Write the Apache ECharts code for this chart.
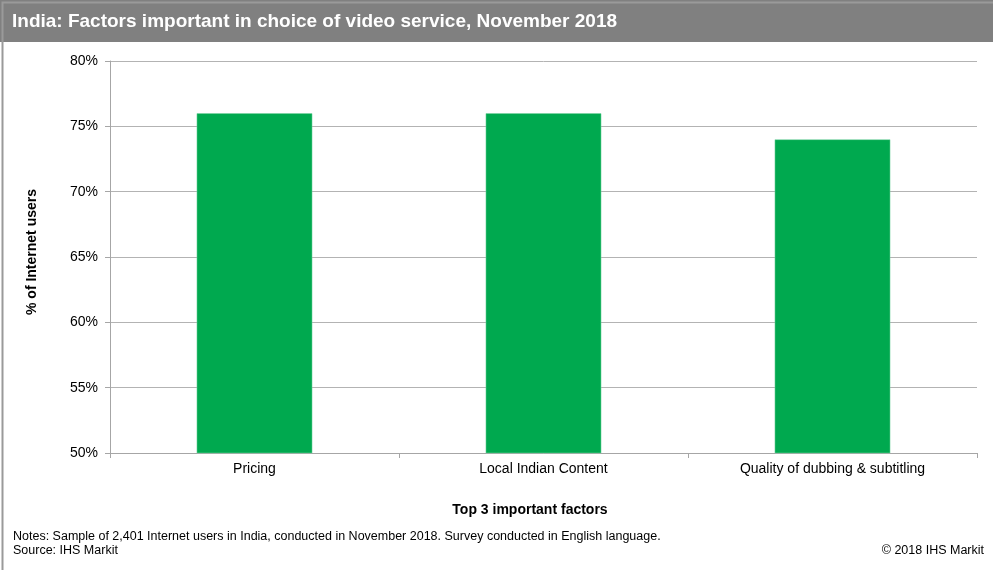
<!DOCTYPE html>
<html><head><meta charset="utf-8">
<script src="https://cdn.jsdelivr.net/npm/echarts@6/dist/echarts.min.js"></script>
<style>html,body{margin:0;padding:0;background:#fff}#c{width:993px;height:570px}</style>
</head><body><div id="c"></div>
<script>
const categories = ["Pricing", "Local Indian Content", "Quality of dubbing & subtitling"];
const values = [76, 76, 74];
const yTicks = [50, 55, 60, 65, 70, 75, 80];
const titleText = "India: Factors important in choice of video service, November 2018";
const notesText = "Notes: Sample of 2,401 Internet users in India, conducted in November 2018. Survey conducted in English language.";
const sourceText = "Source: IHS Markit";
const copyrightText = "\u00a9 2018 IHS Markit";
const xName = "Top 3 important factors";
const yName = "% of Internet users";

const F = "'Liberation Sans', Arial, sans-serif";
const chart = echarts.init(document.getElementById('c'), null, {renderer: 'canvas'});
chart.setOption({
  animation: false,
  backgroundColor: '#fff',
  grid: {left: 110, right: 16, top: 61, bottom: 117, containLabel: false},
  xAxis: {
    type: 'category', data: categories,
    axisLine: {lineStyle: {color: '#a6a6a6', width: 1}},
    axisTick: {show: true, length: 5, lineStyle: {color: '#a6a6a6'}},
    axisLabel: {color: '#000', fontFamily: F, fontSize: 14, margin: 9}
  },
  yAxis: {
    type: 'value', min: yTicks[0], max: yTicks[yTicks.length-1], interval: 5,
    axisLine: {show: true, lineStyle: {color: '#a6a6a6'}},
    axisTick: {show: true, length: 5, lineStyle: {color: '#a6a6a6'}},
    splitLine: {lineStyle: {color: '#b3b3b3', width: 1}},
    axisLabel: {color: '#000', fontFamily: F, fontSize: 14, margin: 12, formatter: v => v + '%'}
  },
  series: [{
    type: 'bar', data: values, barWidth: '40%',
    itemStyle: {color: '#00a94f', borderColor: '#7fd4a7', borderWidth: 0.5}
  }],
  graphic: [
    {type: 'rect', left: 0, top: 0, shape: {width: 993, height: 42}, style: {fill: '#808080'}},
    {type: 'rect', left: 0, top: 0, shape: {width: 992, height: 569}, style: {fill: 'none', stroke: '#9a9a9a', lineWidth: 2}},
    {type: 'text', x: 12, y: 22, style: {text: titleText, fill: '#fff', font: "bold 19px " + F, verticalAlign: 'middle'}},
    {type: 'text', x: 530, y: 510, style: {text: xName, fill: '#000', font: "bold 14px " + F, align: 'center', verticalAlign: 'middle'}},
    {type: 'text', x: 32, y: 252, rotation: Math.PI/2, style: {text: yName, fill: '#000', font: "bold 14px " + F, align: 'center', verticalAlign: 'middle'}},
    {type: 'text', x: 13, y: 537, style: {text: notesText, fill: '#000', font: "12.5px " + F, verticalAlign: 'middle'}},
    {type: 'text', x: 13, y: 551, style: {text: sourceText, fill: '#000', font: "12.5px " + F, verticalAlign: 'middle'}},
    {type: 'text', x: 984, y: 551, style: {text: copyrightText, fill: '#000', font: "12.5px " + F, align: 'right', verticalAlign: 'middle'}}
  ]
});
</script></body></html>
